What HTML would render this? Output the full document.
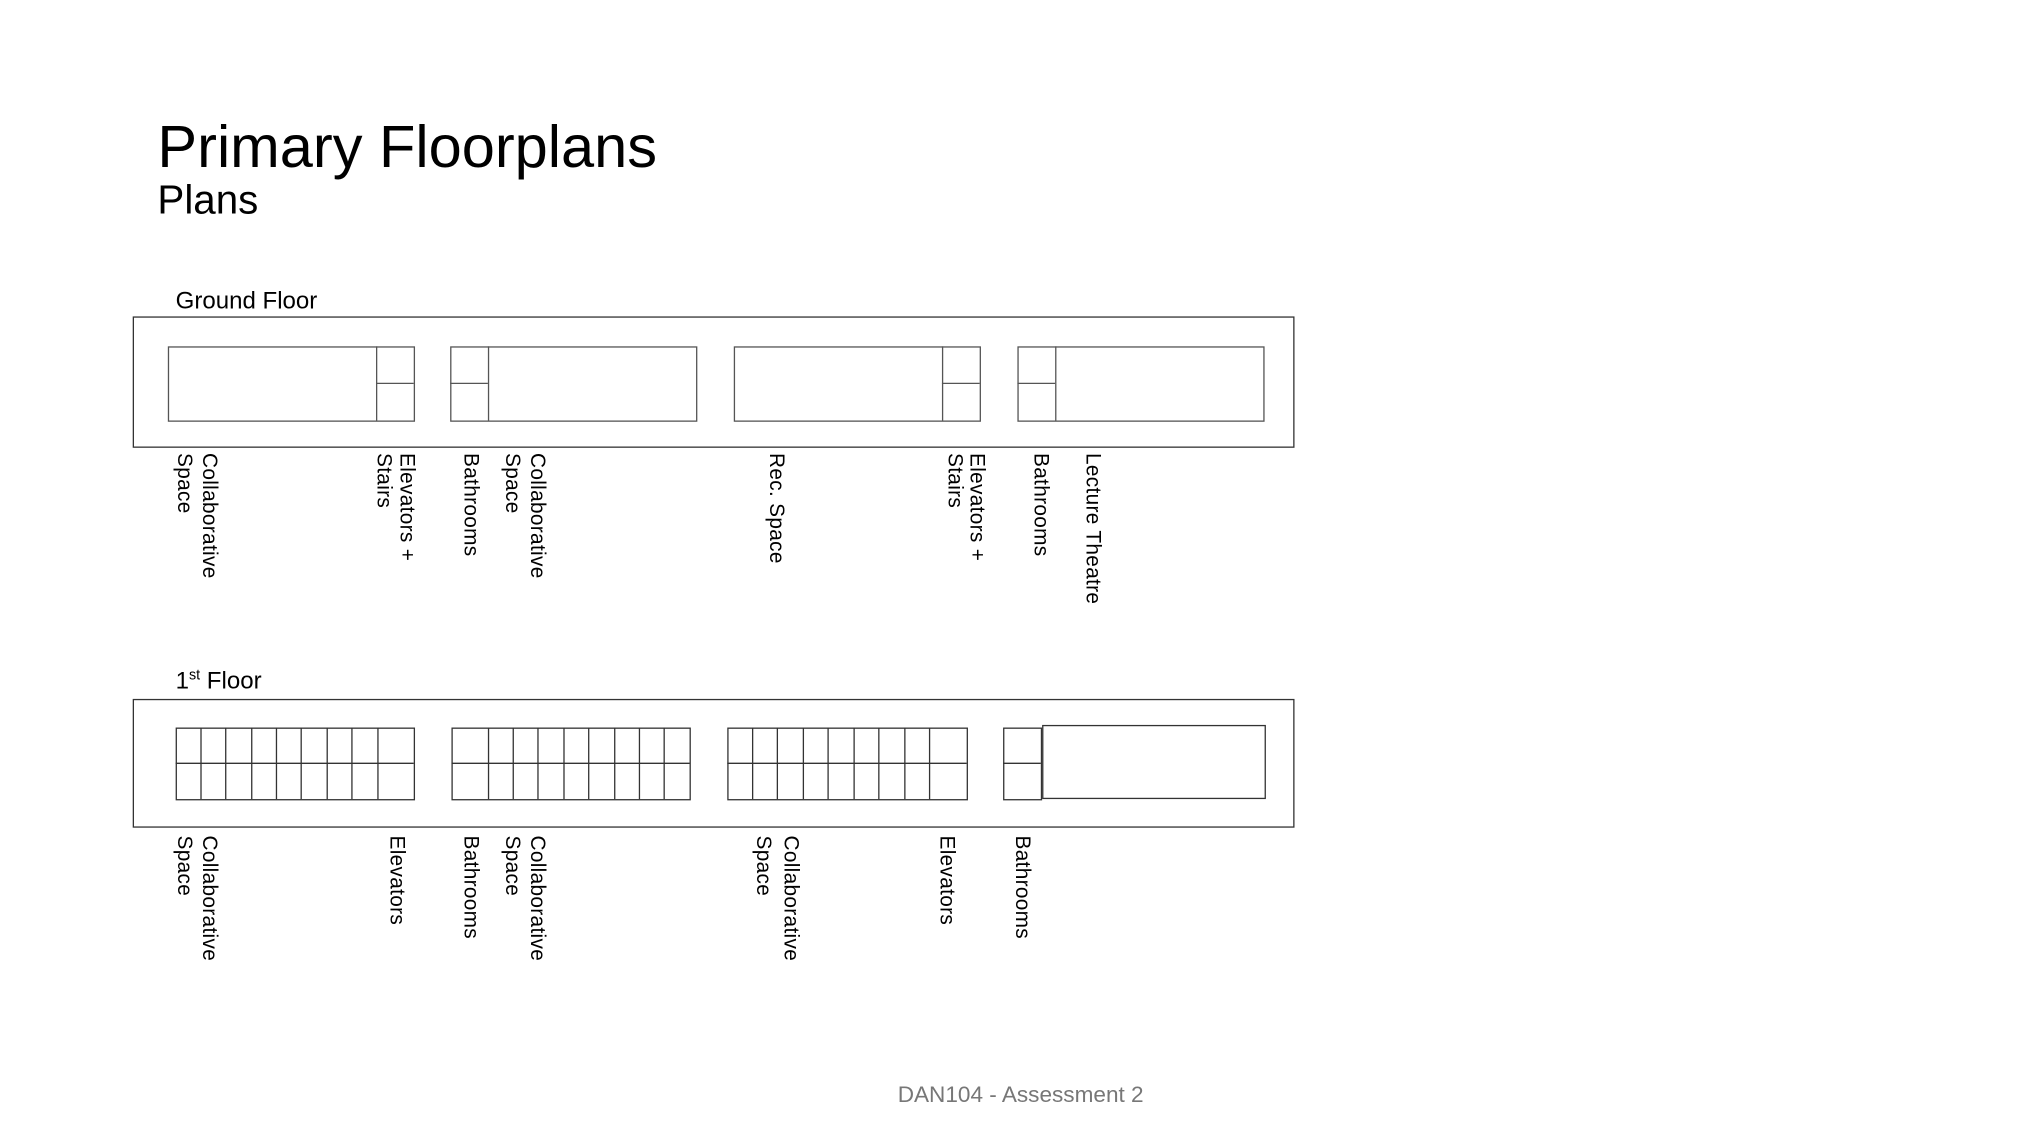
<!DOCTYPE html>
<html><head><meta charset="utf-8"><style>
html,body{margin:0;padding:0;background:#fff;}
svg{display:block;}
text{font-family:"Liberation Sans",Arial,sans-serif;fill:#000;}
</style></head><body>
<svg width="2040" height="1148" viewBox="0 0 1568 882" xmlns="http://www.w3.org/2000/svg">
<text x="121" y="128" font-size="45.6" textLength="384" lengthAdjust="spacingAndGlyphs">Primary Floorplans</text>
<text x="121" y="164" font-size="31">Plans</text>
<text x="135" y="237" font-size="18.5">Ground Floor</text>
<text x="135" y="529" font-size="18.5">1<tspan font-size="11" dy="-7">st</tspan><tspan dy="7"> Floor</tspan></text>

<g fill="none" stroke="#333" stroke-width="1">
<rect x="102.5" y="243.5" width="892" height="100"/>
<rect x="102.5" y="537.5" width="892" height="98"/>
</g>
<g fill="none" stroke="#555" stroke-width="1">
<rect x="129.5" y="266.5" width="189" height="57"/><line x1="289.5" y1="266" x2="289.5" y2="323"/><line x1="289" y1="294.5" x2="318" y2="294.5"/>
<rect x="346.5" y="266.5" width="189" height="57"/><line x1="375.5" y1="266" x2="375.5" y2="323"/><line x1="346" y1="294.5" x2="375" y2="294.5"/>
<rect x="564.5" y="266.5" width="189" height="57"/><line x1="724.5" y1="266" x2="724.5" y2="323"/><line x1="724" y1="294.5" x2="753" y2="294.5"/>
<rect x="782.5" y="266.5" width="189" height="57"/><line x1="811.5" y1="266" x2="811.5" y2="323"/><line x1="782" y1="294.5" x2="811" y2="294.5"/>
</g>
<g fill="none" stroke="#333" stroke-width="1">
<rect x="135.5" y="559.5" width="183" height="55"/><line x1="135" y1="586.5" x2="318" y2="586.5"/>
<path d="M154.5 559v55M173.5 559v55M193.5 559v55M212.5 559v55M231.5 559v55M251.5 559v55M270.5 559v55M290.5 559v55"/>
<rect x="347.5" y="559.5" width="183" height="55"/><line x1="347" y1="586.5" x2="530" y2="586.5"/>
<path d="M375.5 559v55M394.5 559v55M413.5 559v55M433.5 559v55M452.5 559v55M472.5 559v55M491.5 559v55M510.5 559v55"/>
<rect x="559.5" y="559.5" width="184" height="55"/><line x1="559" y1="586.5" x2="743" y2="586.5"/>
<path d="M578.5 559v55M597.5 559v55M617.5 559v55M636.5 559v55M656.5 559v55M675.5 559v55M695.5 559v55M714.5 559v55"/>
<rect x="771.5" y="559.5" width="29" height="55"/><line x1="771" y1="586.5" x2="800" y2="586.5"/>
<rect x="801.5" y="557.5" width="171" height="56"/>
</g>

<g font-size="16" letter-spacing="0.25">
<text transform="translate(156,348) rotate(90)">Collaborative</text>
<text transform="translate(137,348) rotate(90)">Space</text>
<text transform="translate(308,348) rotate(90)">Elevators +</text>
<text transform="translate(290,348) rotate(90)">Stairs</text>
<text transform="translate(357,348) rotate(90)">Bathrooms</text>
<text transform="translate(408,348) rotate(90)">Collaborative</text>
<text transform="translate(389,348) rotate(90)">Space</text>
<text transform="translate(592,348) rotate(90)">Rec. Space</text>
<text transform="translate(746,348) rotate(90)">Elevators +</text>
<text transform="translate(729,348) rotate(90)">Stairs</text>
<text transform="translate(795,348) rotate(90)">Bathrooms</text>
<text transform="translate(835,348) rotate(90)">Lecture Theatre</text>

<text transform="translate(156,642) rotate(90)">Collaborative</text>
<text transform="translate(137,642) rotate(90)">Space</text>
<text transform="translate(300,642) rotate(90)">Elevators</text>
<text transform="translate(357,642) rotate(90)">Bathrooms</text>
<text transform="translate(408,642) rotate(90)">Collaborative</text>
<text transform="translate(389,642) rotate(90)">Space</text>
<text transform="translate(603,642) rotate(90)">Collaborative</text>
<text transform="translate(582,642) rotate(90)">Space</text>
<text transform="translate(723,642) rotate(90)">Elevators</text>
<text transform="translate(781,642) rotate(90)">Bathrooms</text>
</g>

<text x="690" y="847" font-size="17" style="fill:#777" textLength="189" lengthAdjust="spacingAndGlyphs">DAN104 - Assessment 2</text>
</svg>
</body></html>
